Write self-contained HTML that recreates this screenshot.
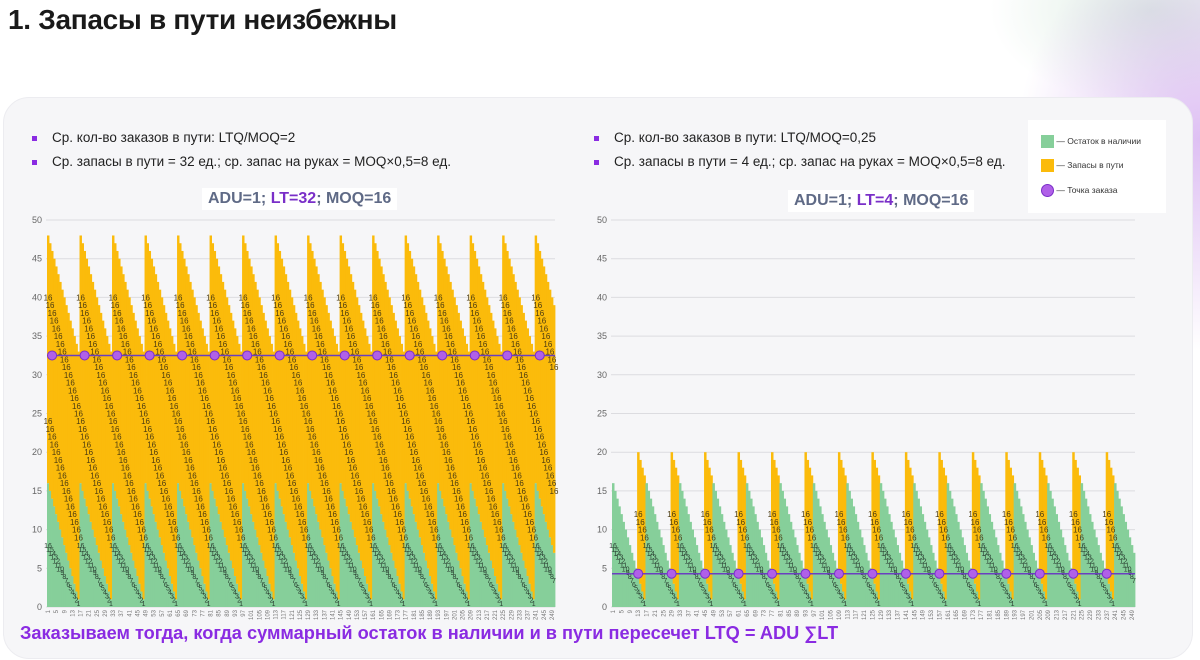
<!DOCTYPE html>
<html><head><meta charset="utf-8">
<style>
html,body{margin:0;padding:0;width:1200px;height:660px;overflow:hidden;background:#fff;font-family:"Liberation Sans",sans-serif;}
#bg{position:absolute;left:0;top:0;width:1200px;height:660px;background:radial-gradient(ellipse 260px 300px at 1200px 140px, rgba(200,150,235,0.6), rgba(255,255,255,0) 70%),radial-gradient(ellipse 200px 120px at 1150px 10px, rgba(190,220,200,0.5), rgba(255,255,255,0) 80%);}
#title{position:absolute;left:8px;top:4px;font-size:28px;font-weight:bold;color:#1a1a1a;letter-spacing:-0.3px}
#card{position:absolute;left:3px;top:97px;width:1188px;height:560px;border-radius:26px;background:#f6f6f8;border:1px solid #ececf0;}
.bul{position:absolute;font-size:13.5px;color:#222}
.bul:before{content:"";position:absolute;left:-20px;top:6px;width:5px;height:5px;background:#8a2be2}
.ct{position:absolute;font-size:16px;font-weight:bold;color:#5f6a86;background:#fff;padding:2px 6px}
.ct b{color:#7a2fc8}
#legend{position:absolute;left:1028px;top:120px;width:138px;height:93px;background:#fff;font-size:8.5px;color:#333}
#cap{position:absolute;left:20px;top:623px;font-size:18.2px;font-weight:bold;color:#8a2be2}
</style></head><body>
<div id="bg"></div>
<div id="title">1. Запасы в пути неизбежны</div>
<div id="card"></div>
<div class="bul" style="left:52px;top:130px">Ср. кол-во заказов в пути: LTQ/MOQ=2</div>
<div class="bul" style="left:52px;top:154px">Ср. запасы в пути = 32 ед.; ср. запас на руках = MOQ×0,5=8 ед.</div>
<div class="bul" style="left:614px;top:130px">Ср. кол-во заказов в пути: LTQ/MOQ=0,25</div>
<div class="bul" style="left:614px;top:154px">Ср. запасы в пути = 4 ед.; ср. запас на руках = MOQ×0,5=8 ед.</div>
<div class="ct" style="left:202px;top:188px">ADU=1; <b>LT=32</b>; MOQ=16</div>
<div class="ct" style="left:788px;top:190px">ADU=1; <b>LT=4</b>; MOQ=16</div>
<div id="legend">
 <div style="position:absolute;left:13px;top:15px"><span style="display:inline-block;width:13px;height:13px;background:#86cf9a;vertical-align:middle"></span> — Остаток в наличии</div>
 <div style="position:absolute;left:13px;top:39px"><span style="display:inline-block;width:13px;height:13px;background:#fbbb0b;vertical-align:middle"></span> — Запасы в пути</div>
 <div style="position:absolute;left:13px;top:64px"><span style="display:inline-block;width:11px;height:11px;border-radius:50%;background:#b060e8;border:1px solid #7a2fc8;vertical-align:middle"></span> — Точка заказа</div>
</div>
<svg id="chart" width="1200" height="660" style="position:absolute;left:0;top:0"></svg>
<div id="cap">Заказываем тогда, когда суммарный остаток в наличии и в пути пересечет LTQ = ADU ∑LT</div>
<script>
// one 16-day cycle, repeated across 250 days
const onHandCycle = [16,15,14,13,12,11,10,9,8,7,6,5,4,3,2,1];
const leftTransitCycle = [32,32,32,32,32,32,32,32,32,32,32,32,32,32,32,32];
const rightTransitCycle = [0,0,0,0,0,0,0,0,0,0,0,0,16,16,16,16];
const leftOrderPoint = 32.5;
const rightOrderPoint = 4.3;
const yTicks = [0,5,10,15,20,25,30,35,40,45,50];
const dayCount = 250;
const leftOrderDays = [2,18,34,50,66,82,98,114,130,146,162,178,194,210,226,242];
const rightOrderDays = [12,28,44,60,76,92,108,124,140,156,172,188,204,220,236];

const NS="http://www.w3.org/2000/svg";
const svg=document.getElementById('chart');
function mk(t,a,p){const e=document.createElementNS(NS,t);for(const k in a)e.setAttribute(k,a[k]);(p||svg).appendChild(e);return e;}

function drawChart(cfg){
  const y=v=>607-v*7.74;
  const bw=(cfg.x1-cfg.x0)/dayCount;
  const x=i=>cfg.x0+i*bw;
  const g=mk('g',{});
  
  
  yTicks.forEach(t=>{
    const l=mk('line',{x1:cfg.gx,x2:cfg.x1,y1:y(t),y2:y(t),stroke:'#dcdce0','stroke-width':1},g);
    
    
    const tx=mk('text',{x:cfg.gx-4,y:y(t)+3,'font-size':9,fill:'#666','text-anchor':'end'},g);
    tx.textContent=t;
    
    
  });
  for(let i=0;i<dayCount;i++){
    const oh=onHandCycle[i%16], tr=cfg.transit[i%16];
    const r1=mk('rect',{x:x(i),y:y(oh),width:bw+0.4,height:y(0)-y(oh),fill:'#86cf9a'},g);
    
    
    if(tr>0){
      const r2=mk('rect',{x:x(i),y:y(oh+tr),width:bw+0.4,height:y(oh)-y(oh+tr),fill:'#fbbb0b'},g);
      
      
    }
  }
  for(let i=0;i<dayCount;i++){
    const oh=onHandCycle[i%16], tr=cfg.transit[i%16];
    for(let k=0;k<tr/16;k++){
      const lb=mk('text',{x:x(i)+bw/2,y:y(oh+8+16*k)+3,'font-size':8,fill:'#4a3a10','text-anchor':'middle'},g);
      lb.textContent='16';
      
      
    }
    const gl=mk('text',{x:x(i)+bw/2,y:y(oh/2)+3,'font-size':7,fill:'#2a3f32','text-anchor':'middle'},g);
    gl.textContent=oh;
    
    
    if(i%4===0){
      const xl=mk('text',{x:0,y:0,'font-size':6,fill:'#777','text-anchor':'end',transform:`translate(${x(i)+bw/2+2},${y(0)+3}) rotate(-90)`},g);
      xl.textContent=i+1;
      
      
    }
  }
  const ol=mk('line',{x1:cfg.x0,x2:cfg.x1,y1:y(cfg.op),y2:y(cfg.op),stroke:'#6a3fc0','stroke-width':1.5},g);
  
  
  cfg.orders.forEach(d=>{
    const c=mk('circle',{cx:x(d)+bw/2,cy:y(cfg.op),r:4.5,fill:'#b060e8',stroke:'#7a2fc8','stroke-width':1},g);
    
    
  });
}
drawChart({name:'left-chart',x0:47,x1:555,gx:46,transit:leftTransitCycle,op:leftOrderPoint,orders:leftOrderDays});
drawChart({name:'right-chart',x0:612,x1:1135,gx:611,transit:rightTransitCycle,op:rightOrderPoint,orders:rightOrderDays});
</script>
</body></html>
